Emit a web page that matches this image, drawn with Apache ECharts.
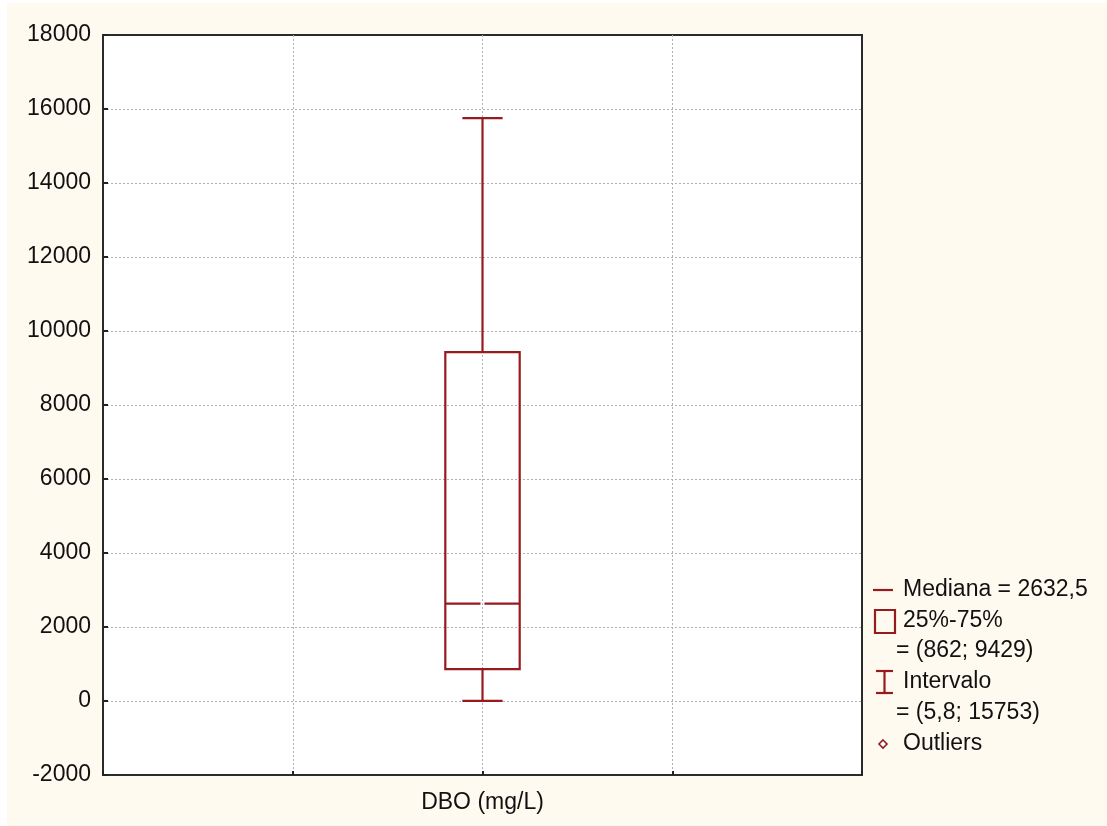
<!DOCTYPE html>
<html>
<head>
<meta charset="utf-8">
<script src="https://cdn.jsdelivr.net/npm/echarts@6/dist/echarts.min.js"></script>
<style>
  html, body { margin: 0; padding: 0; background: #ffffff; }
  #chart { width: 1107px; height: 826px; }
</style>
</head>
<body>
<div id="chart"></div>
<script>
// Box-plot summary of DBO (mg/L)
const categories = ['DBO (mg/L)'];
const minimum = [5.8];
const quartile1 = [862];
const median = [2632.5];
const quartile3 = [9429];
const maximum = [15753];
const yTicks = { min: -2000, max: 18000, step: 2000 };

const boxColor = '#951b1e';
const fontFamily = '"Liberation Sans", Arial, sans-serif';
const fs = 23;

// decimal comma formatting for the legend texts
const fmt = v => String(v).replace('.', ',');

const boxData = categories.map((c, i) =>
  [i, minimum[i], quartile1[i], median[i], quartile3[i], maximum[i]]);

function renderBox(params, api) {
  const idx = api.value(0);
  const lo = api.value(1), q1 = api.value(2), md = api.value(3), q3 = api.value(4), hi = api.value(5);
  const band = api.size([1, 0])[0];
  const cx = api.coord([idx, md])[0];
  const halfBox = band * 0.049;
  const halfCap = band * 0.0265;
  const y = v => api.coord([idx, v])[1];
  const st = { stroke: boxColor, lineWidth: 2.2, fill: null };
  const gap = 2;
  return {
    type: 'group',
    children: [
      { type: 'rect', shape: { x: cx - halfBox, y: y(q3), width: halfBox * 2, height: y(q1) - y(q3) }, style: st },
      { type: 'line', shape: { x1: cx - halfBox, y1: y(md), x2: cx - gap, y2: y(md) }, style: st },
      { type: 'line', shape: { x1: cx + gap, y1: y(md), x2: cx + halfBox, y2: y(md) }, style: st },
      { type: 'line', shape: { x1: cx, y1: y(q3), x2: cx, y2: y(hi) }, style: st },
      { type: 'line', shape: { x1: cx, y1: y(q1), x2: cx, y2: y(lo) }, style: st },
      { type: 'line', shape: { x1: cx - halfCap, y1: y(hi), x2: cx + halfCap, y2: y(hi) }, style: st },
      { type: 'line', shape: { x1: cx - halfCap, y1: y(lo), x2: cx + halfCap, y2: y(lo) }, style: st }
    ]
  };
}

// legend drawn at the right of the plot
const txtX = 903;
const label = (t, x, yy) => ({
  type: 'text', x: x, y: yy,
  style: { text: t, font: fs + 'px ' + fontFamily, fill: '#111', verticalAlign: 'middle' }
});
const legendLine = { stroke: boxColor, lineWidth: 2.2 };
const legend = [
  { type: 'line', shape: { x1: 873, y1: 590, x2: 893, y2: 590 }, style: legendLine },
  label('Mediana = ' + fmt(median[0]), txtX, 590),
  { type: 'rect', shape: { x: 875, y: 610, width: 20, height: 23 }, style: { stroke: boxColor, lineWidth: 2.2, fill: null } },
  label('25%-75%', txtX, 621),
  label('= (' + fmt(quartile1[0]) + '; ' + fmt(quartile3[0]) + ')', 896, 651),
  { type: 'line', shape: { x1: 876, y1: 671, x2: 893, y2: 671 }, style: legendLine },
  { type: 'line', shape: { x1: 884.5, y1: 671, x2: 884.5, y2: 693 }, style: legendLine },
  { type: 'line', shape: { x1: 876, y1: 693, x2: 893, y2: 693 }, style: legendLine },
  label('Intervalo', txtX, 682),
  label('= (' + fmt(minimum[0]) + '; ' + fmt(maximum[0]) + ')', 896, 713),
  { type: 'polygon', shape: { points: [[883, 740], [887, 744], [883, 748], [879, 744]] }, style: { stroke: boxColor, lineWidth: 1.6, fill: '#fff' } },
  label('Outliers', txtX, 744)
];

const chart = echarts.init(document.getElementById('chart'), null, { renderer: 'canvas' });
chart.setOption({
  backgroundColor: '#ffffff',
  animation: false,
  graphic: [
    { type: 'rect', left: 7, top: 3, shape: { width: 1100, height: 823 }, style: { fill: '#fffaf0' }, z: -10, silent: true },
    ...legend
  ],
  grid: {
    left: 103, right: 245, top: 35, bottom: 51,
    show: true, backgroundColor: '#ffffff', borderColor: '#2b2b2b', borderWidth: 2
  },
  xAxis: [
    {
      type: 'category', data: categories, position: 'bottom',
      axisLine: { show: false }, axisTick: { show: false },
      splitLine: { show: false },
      axisLabel: { color: '#111', fontSize: fs, fontFamily: fontFamily, margin: 16 }
    },
    {
      type: 'value', min: 0, max: 4, interval: 1, position: 'bottom',
      axisLine: { show: false },
      axisTick: { show: true, inside: true, length: 4, lineStyle: { color: '#222', width: 2 } },
      axisLabel: { show: false },
      splitLine: { show: true, showMinLine: false, showMaxLine: false, lineStyle: { color: '#b0b0b0', type: [2, 2], width: 1 } }
    }
  ],
  yAxis: {
    type: 'value', min: yTicks.min, max: yTicks.max, interval: yTicks.step,
    axisLine: { show: false },
    axisTick: { show: true, inside: true, length: 5, lineStyle: { color: '#222', width: 2 } },
    axisLabel: { color: '#111', fontSize: fs, fontFamily: fontFamily, margin: 12, formatter: v => String(v) },
    splitLine: { show: true, showMinLine: false, showMaxLine: false, lineStyle: { color: '#b0b0b0', type: [2, 2], width: 1 } }
  },
  series: [{
    type: 'custom',
    xAxisIndex: 0,
    renderItem: renderBox,
    encode: { x: 0, y: [1, 2, 3, 4, 5] },
    data: boxData,
    z: 5
  }]
});
</script>
</body>
</html>
